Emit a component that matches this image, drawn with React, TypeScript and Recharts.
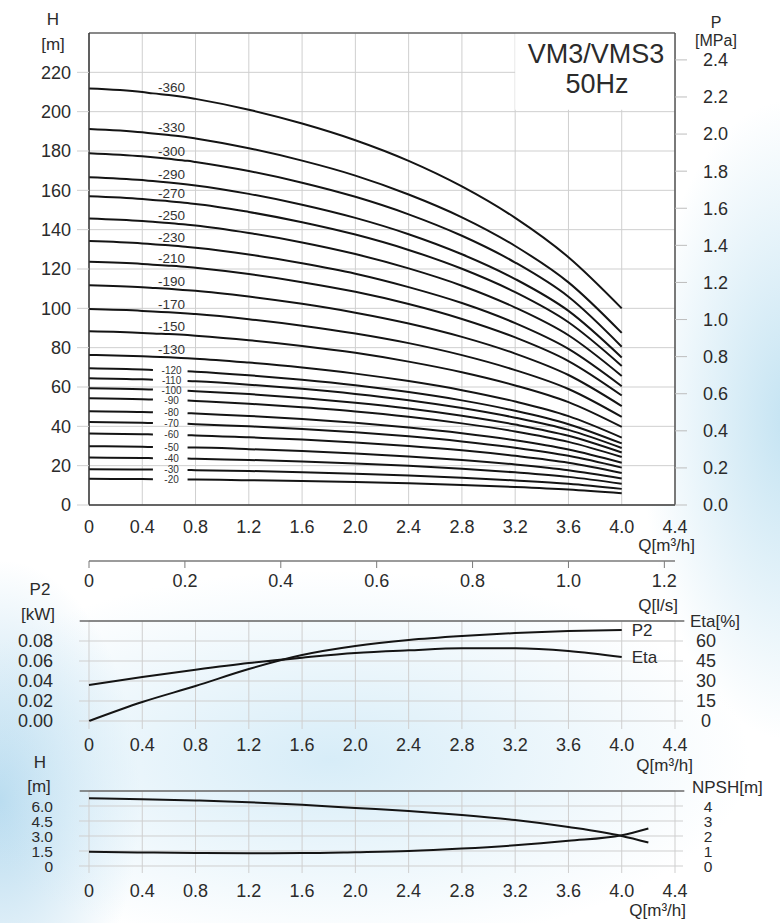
import React from 'react';
import {
  LineChart,
  Line,
  XAxis,
  YAxis,
  CartesianGrid,
  ReferenceArea,
  ReferenceLine,
  ReferenceDot,
} from 'recharts';

const FONT = '"Liberation Sans", Arial, Helvetica, sans-serif';
const INK = '#2b2b2b';
const GRID = '#cfcfcf';
const CURVE = '#141414';

// ---------- axis ticks ----------
const Q_TICKS = [0, 0.4, 0.8, 1.2, 1.6, 2.0, 2.4, 2.8, 3.2, 3.6, 4.0, 4.4];
const QLS_TICKS = [0, 0.2, 0.4, 0.6, 0.8, 1.0, 1.2];
const H_TICKS = [0, 20, 40, 60, 80, 100, 120, 140, 160, 180, 200, 220];
const P_TICKS = [0, 0.2, 0.4, 0.6, 0.8, 1.0, 1.2, 1.4, 1.6, 1.8, 2.0, 2.2, 2.4];
const P2_TICKS = [0, 0.02, 0.04, 0.06, 0.08];
const ETA_TICKS = [0, 15, 30, 45, 60];
const HN_TICKS = [0, 1.5, 3.0, 4.5, 6.0];
const NPSH_TICKS = [0, 1, 2, 3, 4];

// ---------- H-Q curves (m) ----------
const CURVE_Q = [0, 0.4, 0.48, 0.6, 0.74, 0.8, 1.2, 1.6, 2.0, 2.4, 2.8, 3.2, 3.6, 4.0];
const H_20 = [13.3, 13.2, 13.1, 13.1, 13.0, 13.0, 12.6, 12.2, 11.7, 11.0, 10.2, 9.2, 7.9, 6.0];
const H_30 = [18.2, 18.0, 18.0, 17.9, 17.8, 17.7, 17.3, 16.7, 15.9, 15.0, 13.9, 12.5, 10.8, 8.2];
const H_40 = [24.1, 23.9, 23.8, 23.7, 23.6, 23.5, 22.9, 22.1, 21.1, 19.9, 18.4, 16.6, 14.3, 10.8];
const H_50 = [29.9, 29.6, 29.5, 29.4, 29.2, 29.2, 28.4, 27.4, 26.2, 24.7, 22.9, 20.6, 17.7, 13.5];
const H_60 = [36.3, 36.0, 35.9, 35.7, 35.5, 35.4, 34.4, 33.3, 31.8, 30.0, 27.8, 25.0, 21.5, 16.3];
const H_70 = [42.2, 41.8, 41.7, 41.5, 41.3, 41.1, 40.0, 38.7, 37.0, 34.9, 32.3, 29.1, 25.0, 19.0];
const H_80 = [47.7, 47.3, 47.1, 46.9, 46.7, 46.5, 45.3, 43.7, 41.8, 39.4, 36.5, 32.9, 28.2, 21.5];
const H_90 = [54.3, 53.8, 53.6, 53.4, 53.1, 52.9, 51.5, 49.7, 47.6, 44.9, 41.5, 37.4, 32.1, 24.4];
const H_100 = [59.4, 58.9, 58.7, 58.4, 58.1, 57.9, 56.4, 54.4, 52.0, 49.1, 45.4, 40.9, 35.2, 26.7];
const H_110 = [64.5, 63.9, 63.7, 63.5, 63.1, 62.9, 61.2, 59.1, 56.5, 53.3, 49.3, 44.4, 38.2, 29.0];
const H_120 = [69.5, 68.9, 68.7, 68.4, 68.0, 67.8, 66.0, 63.7, 60.9, 57.4, 53.2, 47.9, 41.1, 31.3];
const H_130 = [76.3, 75.6, 75.4, 75.1, 74.6, 74.4, 72.4, 69.9, 66.8, 63.0, 58.4, 52.6, 45.2, 34.3];
const H_150 = [88.3, 87.5, 87.2, 86.9, 86.4, 86.1, 83.8, 80.9, 77.4, 72.9, 67.5, 60.8, 52.3, 39.7];
const H_170 = [99.6, 98.7, 98.4, 98.0, 97.4, 97.1, 94.5, 91.2, 87.2, 82.3, 76.2, 68.6, 59.0, 44.8];
const H_190 = [111.7, 110.7, 110.4, 109.9, 109.2, 108.9, 106.0, 102.3, 97.8, 92.3, 85.5, 77.0, 66.1, 50.3];
const H_210 = [123.7, 122.6, 122.2, 121.7, 121.0, 120.6, 117.4, 113.3, 108.4, 102.2, 94.6, 85.2, 73.2, 55.7];
const H_230 = [134.2, 133.0, 132.6, 132.1, 131.2, 130.8, 127.4, 122.9, 117.6, 110.8, 102.7, 92.5, 79.4, 60.4];
const H_250 = [145.7, 144.4, 144.0, 143.4, 142.5, 142.1, 138.3, 133.5, 127.6, 120.3, 111.5, 100.4, 86.3, 65.6];
const H_270 = [157.0, 155.6, 155.1, 154.5, 153.5, 153.1, 149.0, 143.8, 137.5, 129.7, 120.1, 108.2, 92.9, 70.7];
const H_290 = [166.7, 165.2, 164.7, 164.0, 163.0, 162.5, 158.2, 152.7, 146.0, 137.7, 127.5, 114.9, 98.7, 75.0];
const H_300 = [178.9, 177.3, 176.8, 176.0, 175.0, 174.4, 169.8, 163.9, 156.7, 147.8, 136.9, 123.3, 105.9, 80.5];
const H_330 = [191.2, 189.5, 188.9, 188.1, 187.0, 186.4, 181.4, 175.1, 167.5, 157.9, 146.3, 131.7, 113.2, 87.5];
const H_360 = [211.8, 210.0, 209.3, 208.5, 207.2, 206.5, 201.0, 194.0, 185.5, 175.0, 162.0, 146.0, 126.0, 100.0];

const STAGE_LABELS = [
  '-20', '-30', '-40', '-50', '-60', '-70', '-80', '-90', '-100', '-110', '-120',
  '-130', '-150', '-170', '-190', '-210', '-230', '-250', '-270', '-290', '-300', '-330', '-360',
];
const STAGE_HEADS = [
  H_20, H_30, H_40, H_50, H_60, H_70, H_80, H_90, H_100, H_110, H_120,
  H_130, H_150, H_170, H_190, H_210, H_230, H_250, H_270, H_290, H_300, H_330, H_360,
];
// curves whose label sits inside a gap of the line
const SPLIT_STAGES = ['-20', '-30', '-40', '-50', '-60', '-70', '-80', '-90', '-100', '-110', '-120'];
const LABEL_IDX = 3; // Q = 0.6
const LABEL_Q = 0.62;

// ---------- P2 / Eta ----------
const PERF_Q = [0, 0.4, 0.8, 1.2, 1.6, 2.0, 2.4, 2.8, 3.2, 3.6, 4.0];
const P2_KW = [0, 0.019, 0.035, 0.052, 0.066, 0.075, 0.081, 0.085, 0.088, 0.09, 0.091];
const ETA_PCT = [27, 33, 38.5, 43.5, 47.5, 51, 53, 54.5, 54.5, 52.5, 48];

// ---------- H / NPSH ----------
const NPSH_Q = [0, 0.4, 0.8, 1.2, 1.6, 2.0, 2.4, 2.8, 3.2, 3.6, 4.0, 4.2];
const H_SMALL = [6.77, 6.68, 6.55, 6.38, 6.12, 5.8, 5.5, 5.1, 4.6, 3.9, 3.0, 2.35];
const NPSH_M = [0.95, 0.9, 0.87, 0.85, 0.86, 0.92, 1.0, 1.16, 1.38, 1.68, 2.05, 2.5];

// ---------- tables ----------
const hqRows = CURVE_Q.map((q, i) => {
  const row: Record<string, number | null> = { q };
  STAGE_LABELS.forEach((s, k) => {
    row['s' + k] = SPLIT_STAGES.includes(s) && i === LABEL_IDX ? null : STAGE_HEADS[k][i];
  });
  return row;
});
const perfRows = PERF_Q.map((q, i) => ({ q, p2: P2_KW[i], eta: ETA_PCT[i] }));
const npshRows = NPSH_Q.map((q, i) => ({ q, h: H_SMALL[i], npsh: NPSH_M[i] }));

const M3H_PER_LS = 3.6;
const qFmt = (v: number) => (v === 0 ? '0' : v.toFixed(1));
const tickStyle = { fontSize: 18, fill: INK, fontFamily: FONT };

const T = (x: number, y: number, s: string, size = 18, anchor: string = 'middle') => (
  <text x={x} y={y} fontSize={size} fill={INK} fontFamily={FONT} textAnchor={anchor as any}>
    {s}
  </text>
);

const centeredTick = (fmt: (v: number) => string, size = 18) => (props: any) => {
  const { x, y, payload } = props;
  return (
    <text x={x} y={y} dy="0.36em" textAnchor="middle" fontSize={size} fill={INK} fontFamily={FONT}>
      {fmt(payload.value)}
    </text>
  );
};

const hidden = {
  stroke: 'none',
  dot: false,
  activeDot: false,
  legendType: 'none' as const,
  isAnimationActive: false,
};

function HeadChart() {
  return (
    <LineChart
      width={780}
      height={615}
      data={hqRows}
      margin={{ top: 33, right: 45, left: 0, bottom: 4 }}
    >
      <CartesianGrid stroke={GRID} fill="#ffffff" />
      <XAxis
        dataKey="q"
        type="number"
        domain={[0, 4.4]}
        ticks={Q_TICKS}
        tickFormatter={qFmt}
        height={56}
        axisLine={{ stroke: '#3a3a3a', strokeWidth: 1.5 }}
        tickLine={false}
        tickMargin={9}
        tick={tickStyle}
        interval={0}
        label={() => T(695, 551, 'Q[m³/h]', 17, 'end')}
      />
      <XAxis
        xAxisId="ls"
        dataKey={(r: any) => r.q / M3H_PER_LS}
        type="number"
        domain={[0, 4.4 / M3H_PER_LS]}
        ticks={QLS_TICKS}
        tickFormatter={qFmt}
        allowDataOverflow
        height={50}
        axisLine={{ stroke: '#7a7a7a', strokeWidth: 1.5 }}
        tickLine={{ stroke: '#7a7a7a' }}
        tickSize={7}
        tickMargin={6}
        tick={tickStyle}
        interval={0}
        label={() => T(678, 611, 'Q[l/s]', 17, 'end')}
      />
      <YAxis
        type="number"
        domain={[0, 240]}
        ticks={H_TICKS}
        width={89}
        axisLine={{ stroke: '#333', strokeWidth: 1.5 }}
        tickLine={{ stroke: GRID }}
        tickSize={12}
        tickMargin={6}
        tick={tickStyle}
        interval={0}
        label={() => (
          <g>
            {T(53, 25, 'H', 17)}
            {T(53, 50, '[m]', 17)}
          </g>
        )}
      />
      <YAxis
        yAxisId="p"
        orientation="right"
        type="number"
        domain={[0, 2.545]}
        ticks={P_TICKS}
        tickFormatter={(v: number) => v.toFixed(1)}
        allowDataOverflow
        width={60}
        axisLine={{ stroke: '#555', strokeWidth: 1.5 }}
        tickLine={{ stroke: '#bdbdbd' }}
        tickSize={12}
        tickMargin={16}
        tick={tickStyle}
        interval={0}
        label={() => (
          <g>
            {T(716, 28, 'P', 16)}
            {T(716, 46, '[MPa]', 16)}
          </g>
        )}
      />
      <ReferenceArea
        x1={3.2}
        x2={4.4}
        y1={201}
        y2={240}
        fill="#ffffff"
        fillOpacity={1}
        stroke="none"
        label={() => (
          <g>
            {T(596, 63, 'VM3/VMS3', 27)}
            {T(597, 93, '50Hz', 27)}
          </g>
        )}
      />
      <ReferenceLine y={240} stroke="#6a6a6a" strokeWidth={1.5} />
      {/* invisible series that register the secondary axes */}
      <Line dataKey="none" yAxisId="p" {...hidden} />
      <Line dataKey="none" xAxisId="ls" {...hidden} />
      {STAGE_LABELS.map((s, k) => (
        <Line
          key={s}
          dataKey={'s' + k}
          type="monotone"
          stroke={CURVE}
          strokeWidth={2}
          dot={false}
          activeDot={false}
          connectNulls={false}
          isAnimationActive={false}
        />
      ))}
      {STAGE_LABELS.map((s, k) => {
        const split = SPLIT_STAGES.includes(s);
        return (
          <ReferenceDot
            key={'lbl' + s}
            x={LABEL_Q}
            y={STAGE_HEADS[k][LABEL_IDX]}
            r={0}
            fill="none"
            stroke="none"
            label={{
              value: s,
              position: split ? 'center' : 'top',
              offset: 3,
              fontSize: split ? 10 : 13.5,
              fill: '#333',
              fontFamily: FONT,
            }}
          />
        );
      })}
    </LineChart>
  );
}

function PerfChart() {
  const last = PERF_Q.length - 1;
  const endLabel = (name: string) => (p: any) =>
    p.index === last ? (
      <text x={p.x + 10} y={p.y + 6} fontSize={17} fill={INK} fontFamily={FONT}>
        {name}
      </text>
    ) : null;
  return (
    <LineChart
      width={780}
      height={200}
      data={perfRows}
      margin={{ top: 41, right: 45, left: 0, bottom: 9 }}
    >
      <CartesianGrid stroke={GRID} />
      <XAxis
        dataKey="q"
        type="number"
        domain={[0, 4.4]}
        ticks={Q_TICKS}
        tickFormatter={qFmt}
        height={50}
        axisLine={false}
        tickLine={{ stroke: GRID }}
        tickSize={8}
        tickMargin={9}
        tick={tickStyle}
        interval={0}
        label={() => T(693, 191, 'Q[m³/h]', 17, 'end')}
      />
      <YAxis
        type="number"
        domain={[0, 0.1]}
        ticks={P2_TICKS}
        tickFormatter={(v: number) => v.toFixed(2)}
        width={89}
        axisLine={false}
        tickLine={{ stroke: GRID }}
        tickSize={10}
        tickMargin={26}
        tick={tickStyle}
        interval={0}
        label={() => (
          <g>
            {T(40, 15, 'P2', 17)}
            {T(38, 40, '[kW]', 17)}
          </g>
        )}
      />
      <YAxis
        yAxisId="eta"
        orientation="right"
        type="number"
        domain={[0, 75]}
        ticks={ETA_TICKS}
        width={60}
        axisLine={false}
        tickLine={{ stroke: GRID }}
        tickSize={8}
        tickMargin={23}
        tick={centeredTick((v) => String(v))}
        interval={0}
        label={() => T(690, 47, 'Eta[%]', 17, 'start')}
      />
      <ReferenceLine
        stroke="#6a6a6a"
        strokeWidth={1.5}
        ifOverflow="visible"
        segment={[
          { x: -0.07, y: 0.1 },
          { x: 4.47, y: 0.1 },
        ]}
      />
      <Line
        dataKey="p2"
        type="monotone"
        stroke={CURVE}
        strokeWidth={2}
        dot={false}
        activeDot={false}
        isAnimationActive={false}
        label={endLabel('P2')}
      />
      <Line
        dataKey="eta"
        yAxisId="eta"
        type="monotone"
        stroke={CURVE}
        strokeWidth={2}
        dot={false}
        activeDot={false}
        isAnimationActive={false}
        label={endLabel('Eta')}
      />
    </LineChart>
  );
}

function NpshChart() {
  return (
    <LineChart
      width={780}
      height={173}
      data={npshRows}
      margin={{ top: 41, right: 45, left: 0, bottom: 7 }}
    >
      <CartesianGrid stroke={GRID} />
      <XAxis
        dataKey="q"
        type="number"
        domain={[0, 4.4]}
        ticks={Q_TICKS}
        tickFormatter={qFmt}
        height={50}
        axisLine={false}
        tickLine={{ stroke: GRID }}
        tickSize={7}
        tickMargin={11}
        tick={tickStyle}
        interval={0}
        label={() => T(686, 166, 'Q[m³/h]', 17, 'end')}
      />
      <YAxis
        type="number"
        domain={[0, 7.5]}
        ticks={HN_TICKS}
        tickFormatter={(v: number) => (v === 0 ? '0' : v.toFixed(1))}
        width={89}
        axisLine={false}
        tickLine={{ stroke: GRID }}
        tickSize={10}
        tickMargin={26}
        tick={{ ...tickStyle, fontSize: 15.5 }}
        interval={0}
        label={() => (
          <g>
            {T(40, 18, 'H', 17)}
            {T(39, 42, '[m]', 17)}
          </g>
        )}
      />
      <YAxis
        yAxisId="npsh"
        orientation="right"
        type="number"
        domain={[0, 5]}
        ticks={NPSH_TICKS}
        width={60}
        axisLine={false}
        tickLine={{ stroke: GRID }}
        tickSize={8}
        tickMargin={25}
        tick={centeredTick((v) => String(v), 15.5)}
        interval={0}
        label={() => T(692, 43, 'NPSH[m]', 17, 'start')}
      />
      <ReferenceLine
        stroke="#6a6a6a"
        strokeWidth={1.5}
        ifOverflow="visible"
        segment={[
          { x: -0.07, y: 7.5 },
          { x: 4.47, y: 7.5 },
        ]}
      />
      <Line
        dataKey="h"
        type="monotone"
        stroke={CURVE}
        strokeWidth={2}
        dot={false}
        activeDot={false}
        isAnimationActive={false}
      />
      <Line
        dataKey="npsh"
        yAxisId="npsh"
        type="monotone"
        stroke={CURVE}
        strokeWidth={2}
        dot={false}
        activeDot={false}
        isAnimationActive={false}
      />
    </LineChart>
  );
}

const BG = [
  'radial-gradient(ellipse 150px 320px at 790px 420px, rgba(185,222,240,0.85), rgba(255,255,255,0) 100%)',
  'radial-gradient(ellipse 420px 190px at 330px 760px, rgba(205,232,246,0.8), rgba(255,255,255,0) 100%)',
  'radial-gradient(ellipse 140px 240px at 0px 800px, rgba(170,212,236,0.85), rgba(255,255,255,0) 100%)',
  '#ffffff',
].join(', ');

export default function App() {
  return (
    <div
      style={{
        position: 'absolute',
        left: 0,
        top: 0,
        width: 780,
        height: 923,
        overflow: 'hidden',
        background: BG,
        fontFamily: FONT,
      }}
    >
      <div style={{ position: 'absolute', left: 0, top: 0 }}>
        <HeadChart />
      </div>
      <div style={{ position: 'absolute', left: 0, top: 580 }}>
        <PerfChart />
      </div>
      <div style={{ position: 'absolute', left: 0, top: 750 }}>
        <NpshChart />
      </div>
    </div>
  );
}
